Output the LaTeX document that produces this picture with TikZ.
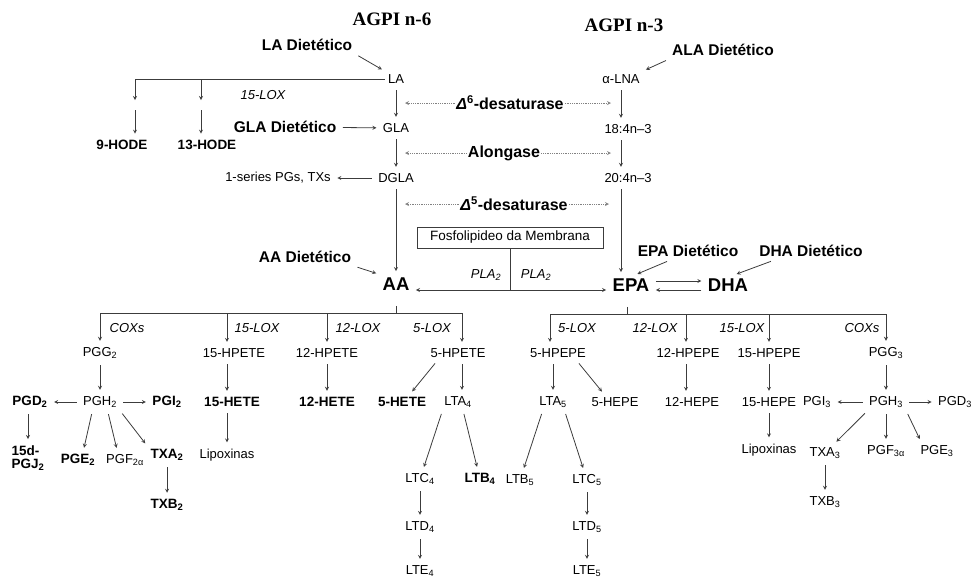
\documentclass[tikz,border=0pt]{standalone}
\usepackage{fontspec}
\setmainfont{Liberation Sans}
\newfontfamily\serifbold{Liberation Serif}
\usepackage{tikz}
\usetikzlibrary{arrows,positioning}
\definecolor{pathgray}{RGB}{60,60,60}
\definecolor{enzgray}{RGB}{130,130,130}
\tikzstyle{arrow} = [line width=0.8pt,->,>=stealth,color=pathgray,shorten >=3pt,shorten <=3pt]
\tikzstyle{drop} = [line width=0.8pt,->,>=stealth,color=pathgray,shorten >=3pt]
\tikzstyle{branch} = [line width=0.8pt,color=pathgray]
\tikzstyle{enzline} = [line width=0.8pt,->,>=stealth,densely dotted,color=enzgray]
\tikzstyle{met} = [font=\fontsize{13}{15}\selectfont]
\tikzstyle{metb} = [font=\fontsize{13.5}{13}\selectfont\bfseries]
\tikzstyle{diet} = [font=\fontsize{15.5}{17}\selectfont\bfseries]
\tikzstyle{enzyme} = [font=\fontsize{16}{18}\selectfont\bfseries,inner sep=1pt]
\tikzstyle{lox} = [font=\fontsize{13}{15}\selectfont\itshape]
\tikzstyle{acid} = [font=\fontsize{18.5}{20}\selectfont\bfseries]
\tikzstyle{series} = [font=\serifbold\fontsize{19}{21}\selectfont\bfseries]
\tikzstyle{membrane} = [draw=pathgray,line width=0.8pt,font=\fontsize{13.5}{15}\selectfont,minimum width=186pt,minimum height=21pt]

\begin{document}
\begin{tikzpicture}[x=1pt,y=-1pt]
\useasboundingbox (0,0) rectangle (977,582);

% Series titles
\node[series] (titleN6) at (392,19) {AGPI n-6};
\node[series] (titleN3) at (624,25) {AGPI n-3};

% n-6 pathway
\node[met] (LA) at (396,79) {LA};
\node[met] (GLA) at (396,128) {GLA};
\node[met] (DGLA) at (396,178) {DGLA};
\node[acid] (AA) at (396,284) {AA};
\node[diet] (LAdiet) at (307,45) {LA Dietético};
\node[diet] (GLAdiet) at (285,127) {GLA Dietético};
\node[diet] (AAdiet) at (305,257) {AA Dietético};
\node[met] (PGs1) at (278,178) {1-series PGs, TXs};

\draw[arrow] (LAdiet.south east) -- (LA.north west);
\draw[arrow] (GLAdiet) -- (GLA);
\draw[arrow] (AAdiet.south east) -- (AA.150);
\draw[arrow] (LA) -- (GLA);
\draw[arrow] (GLA) -- (DGLA);
\draw[arrow] (DGLA) -- (AA);
\draw[arrow] (DGLA) -- (PGs1);

% LA to HODEs
\node[metb] (HODE9) at (122,145) {9-HODE};
\node[metb] (HODE13) at (207,145) {13-HODE};
\node[lox] (loxLA) at (263,95) {15-LOX};
\coordinate (hode9top) at (135,79);
\coordinate (hode9mid) at (135,103);
\coordinate (hode9low) at (135,110);
\coordinate (hode13top) at (201,79);
\coordinate (hode13mid) at (201,103);
\coordinate (hode13low) at (201,110);
\draw[branch] (LA.west) -- (hode9top);
\draw[drop] (hode9top) -- (hode9mid);
\draw[drop] (hode9low) -- (hode9low |- HODE9.north);
\draw[drop] (hode13top) -- (hode13mid);
\draw[drop] (hode13low) -- (hode13low |- HODE13.north);

% n-3 pathway
\node[met] (ALNA) at (621,79) {α-LNA};
\node[met] (SDA) at (628,129) {18:4n–3};
\node[met] (ETA) at (628,178) {20:4n–3};
\node[acid] (EPA) at (631,285) {EPA};
\node[acid] (DHA) at (728,285) {DHA};
\node[diet] (ALAdiet) at (723,50) {ALA Dietético};
\node[diet] (EPAdiet) at (688,251) {EPA Dietético};
\node[diet] (DHAdiet) at (811,251) {DHA Dietético};

\draw[arrow] (ALAdiet.south west) -- (ALNA.north east);
\draw[arrow] (ALNA) -- (ALNA |- SDA.north);
\draw[arrow] (SDA.south -| ALNA) -- (ETA.north -| ALNA);
\draw[arrow] (ETA.south -| ALNA) -- (EPA.north -| ALNA);
\draw[arrow] (EPAdiet.207) -- (EPA.70);
\draw[arrow] (DHAdiet.194) -- (DHA.60);
\draw[arrow] ([yshift=4pt]EPA.east) -- ([yshift=4pt]DHA.west);
\draw[arrow] ([yshift=-5pt]DHA.west) -- ([yshift=-5pt]EPA.east);

% Enzymes between the two series
\node[enzyme] (D6) at (510,103) {{\itshape Δ}\textsuperscript{6}-desaturase};
\coordinate (D6left) at (405,103);
\coordinate (D6right) at (611,103);
\draw[enzline] (D6) -- (D6left);
\draw[enzline] (D6) -- (D6right);

\node[enzyme] (ELO) at (504,153) {Alongase};
\coordinate (ELOleft) at (405,153);
\coordinate (ELOright) at (611,153);
\draw[enzline] (ELO) -- (ELOleft);
\draw[enzline] (ELO) -- (ELOright);

\node[enzyme] (D5) at (514,204) {{\itshape Δ}\textsuperscript{5}-desaturase};
\coordinate (D5left) at (405,204);
\coordinate (D5right) at (609,204);
\draw[enzline] (D5) -- (D5left);
\draw[enzline] (D5) -- (D5right);

% Membrane phospholipid
\node[membrane] (PL) at (510,237.5) {Fosfolipideo da Membrana};
\coordinate (PLAsplit) at (510,290);
\draw[branch] (PL) -- (PLAsplit);
\draw[drop] (PLAsplit) -- (AA.east |- PLAsplit);
\draw[drop] (PLAsplit) -- (EPA.west |- PLAsplit);
\node[lox] (PLAleft) at (486,275) {PLA\textsubscript{2}};
\node[lox] (PLAright) at (536,275) {PLA\textsubscript{2}};

% AA cascade
\coordinate (AAfork) at (396,313);
\coordinate (COX2) at (100,313);
\coordinate (LOX15a) at (227,313);
\coordinate (LOX12a) at (327,313);
\coordinate (LOX5a) at (462,313);
\draw[branch,shorten <=12pt] (AA) -- (AAfork);
\draw[branch] (COX2) -- (LOX5a);
\node[lox] (COXaLbl) at (127,328) {COXs};
\node[lox] (LOX15aLbl) at (257,328) {15-LOX};
\node[lox] (LOX12aLbl) at (358,328) {12-LOX};
\node[lox] (LOX5aLbl) at (432,328) {5-LOX};

\node[met] (PGG2) at (100,353) {PGG\textsubscript{2}};
\node[met] (HPETE15) at (234,353) {15-HPETE};
\node[met] (HPETE12) at (327,353) {12-HPETE};
\node[met] (HPETE5) at (458,353) {5-HPETE};
\draw[drop] (COX2) -- (PGG2);
\draw[drop] (LOX15a) -- (LOX15a |- HPETE15.north);
\draw[drop] (LOX12a) -- (HPETE12);
\draw[drop] (LOX5a) -- (LOX5a |- HPETE5.north);

\node[metb] (PGD2) at (30,402) {PGD\textsubscript{2}};
\node[met] (PGH2) at (100,402) {PGH\textsubscript{2}};
\node[metb] (PGI2) at (167,402) {PGI\textsubscript{2}};
\node[metb] (HETE15) at (232,402) {15-HETE};
\node[metb] (HETE12) at (327,402) {12-HETE};
\node[metb] (HETE5) at (402,402) {5-HETE};
\node[met] (LTA4) at (458,402) {LTA\textsubscript{4}};
\draw[arrow] (PGG2) -- (PGH2);
\draw[arrow] (PGH2) -- (PGD2);
\draw[arrow] (PGH2) -- (PGI2);
\draw[arrow] (HPETE15.south -| LOX15a) -- (HETE15.north -| LOX15a);
\draw[arrow] (HPETE12) -- (HETE12);
\draw[arrow] (HPETE5.201) -- (HETE5.45);
\draw[arrow] (HPETE5.south -| LOX5a) -- (LTA4.north -| LOX5a);

\node[metb,align=left] (PGJ2) at (28,458) {15d-\\PGJ\textsubscript{2}};
\node[metb] (PGE2) at (78,460) {PGE\textsubscript{2}};
\node[met] (PGF2a) at (125,460) {PGF\textsubscript{2α}};
\node[metb] (TXA2) at (167,455) {TXA\textsubscript{2}};
\node[metb] (TXB2) at (167,505) {TXB\textsubscript{2}};
\node[met] (LIPa) at (227,455) {Lipoxinas};
\draw[arrow] (PGD2.south -| PGJ2) -- (PGJ2);
\draw[arrow] (PGH2.230) -- (PGE2.60);
\draw[arrow] (PGH2.310) -- (PGF2a.130);
\draw[arrow] (PGH2.south east) -- (TXA2.north west);
\draw[arrow] (TXA2) -- (TXB2);
\draw[arrow] (HETE15.south -| LIPa) -- (LIPa);

\node[met] (LTC4) at (420,479) {LTC\textsubscript{4}};
\node[metb] (LTB4) at (480,479) {LTB\textsubscript{4}};
\node[met] (LTD4) at (420,527) {LTD\textsubscript{4}};
\node[met] (LTE4) at (420,571) {LTE\textsubscript{4}};
\draw[arrow] (LTA4.210) -- (LTC4);
\draw[arrow] (LTA4.300) -- (LTB4);
\draw[arrow] (LTC4) -- (LTD4);
\draw[arrow] (LTD4) -- (LTE4);

% EPA cascade
\coordinate (EPAfork) at (627,314);
\coordinate (LOX5b) at (550,314);
\coordinate (LOX12b) at (686,314);
\coordinate (LOX15b) at (769,314);
\coordinate (COX3) at (886,314);
\draw[branch,shorten <=12pt] (EPA.south -| EPAfork) -- (EPAfork);
\draw[branch] (LOX5b) -- (COX3);
\node[lox] (LOX5bLbl) at (577,328) {5-LOX};
\node[lox] (LOX12bLbl) at (655,328) {12-LOX};
\node[lox] (LOX15bLbl) at (742,328) {15-LOX};
\node[lox] (COXbLbl) at (862,328) {COXs};

\node[met] (HPEPE5) at (558,353) {5-HPEPE};
\node[met] (HPEPE12) at (688,353) {12-HPEPE};
\node[met] (HPEPE15) at (769,353) {15-HPEPE};
\node[met] (PGG3) at (886,353) {PGG\textsubscript{3}};
\draw[drop] (LOX5b) -- (LOX5b |- HPEPE5.north);
\draw[drop] (LOX12b) -- (LOX12b |- HPEPE12.north);
\draw[drop] (LOX15b) -- (HPEPE15);
\draw[drop] (COX3) -- (PGG3);

\node[met] (LTA5) at (553,402) {LTA\textsubscript{5}};
\node[met] (HEPE5) at (615,402) {5-HEPE};
\node[met] (HEPE12) at (692,402) {12-HEPE};
\node[met] (HEPE15) at (769,402) {15-HEPE};
\node[met] (PGI3) at (817,402) {PGI\textsubscript{3}};
\node[met] (PGH3) at (886,402) {PGH\textsubscript{3}};
\node[met] (PGD3) at (955,402) {PGD\textsubscript{3}};
\draw[arrow] (HPEPE5.south -| LTA5) -- (LTA5);
\draw[arrow] (HPEPE5.337) -- (HEPE5.144);
\draw[arrow] (HPEPE12.south -| LOX12b) -- (HEPE12.north -| LOX12b);
\draw[arrow] (HPEPE15) -- (HEPE15);
\draw[arrow] (PGG3) -- (PGH3);
\draw[arrow] (PGH3) -- (PGI3);
\draw[arrow] (PGH3) -- (PGD3);

\node[met] (LIPb) at (769,450) {Lipoxinas};
\node[met] (TXA3) at (825,453) {TXA\textsubscript{3}};
\node[met] (PGF3a) at (886,451) {PGF\textsubscript{3α}};
\node[met] (PGE3) at (937,451) {PGE\textsubscript{3}};
\node[met] (TXB3) at (825,502) {TXB\textsubscript{3}};
\draw[arrow] (HEPE15) -- (LIPb);
\draw[arrow] (PGH3.206) -- (TXA3);
\draw[arrow] (PGH3) -- (PGF3a);
\draw[arrow] (PGH3.south east) -- (PGE3.150);
\draw[arrow] (TXA3) -- (TXB3);

\node[met] (LTB5) at (520,480) {LTB\textsubscript{5}};
\node[met] (LTC5) at (587,480) {LTC\textsubscript{5}};
\node[met] (LTD5) at (587,527) {LTD\textsubscript{5}};
\node[met] (LTE5) at (587,571) {LTE\textsubscript{5}};
\draw[arrow] (LTA5.221) -- (LTB5);
\draw[arrow] (LTA5.322) -- (LTC5);
\draw[arrow] (LTC5) -- (LTD5);
\draw[arrow] (LTD5) -- (LTE5);
\end{tikzpicture}
\end{document}
